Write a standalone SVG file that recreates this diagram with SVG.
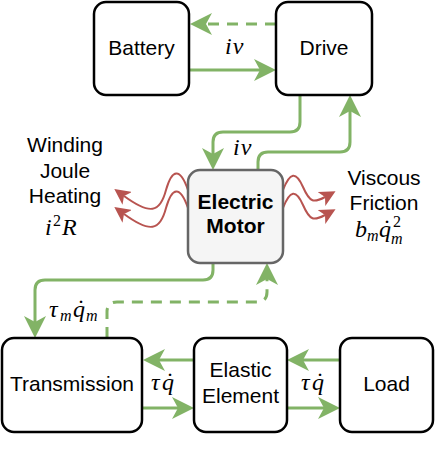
<svg xmlns="http://www.w3.org/2000/svg" width="436" height="468" viewBox="0 0 436 468">
<defs>
<style>
.box{fill:#fff;stroke:#000;stroke-width:2.5}
.motor{fill:#f5f5f5;stroke:#666;stroke-width:2.5}
.lbl{font-family:"Liberation Sans",Arial,sans-serif;font-size:21px;fill:#000;text-anchor:middle}
.bold{font-weight:bold}
.math{font-family:"Liberation Serif","Times New Roman",serif;font-style:italic;font-size:24px;fill:#000}
.sub{font-size:16px}
.up{font-style:normal;font-size:16px}
.dot{font-family:"Liberation Serif","Times New Roman",serif;font-size:24px;fill:#000}
.g{fill:none;stroke:#82b366;stroke-width:3}
.gd{fill:none;stroke:#82b366;stroke-width:3;stroke-dasharray:11 8}
.r{fill:none;stroke:#b85450;stroke-width:2}
</style>
<marker id="ag" viewBox="0 0 22 22" markerWidth="22" markerHeight="22" markerUnits="userSpaceOnUse" refX="6" refY="11" orient="auto">
<path d="M0,0 L22,11 L0,22 L6,11 Z" fill="#82b366"/>
</marker>
<marker id="ar" viewBox="0 0 16 16" markerWidth="16" markerHeight="16" markerUnits="userSpaceOnUse" refX="4" refY="8" orient="auto">
<path d="M0,0 L16,8 L0,16 L4,8 Z" fill="#b85450"/>
</marker>
</defs>

<g id="connectors">
<path class="gd" d="M276,24 L206,24" marker-end="url(#ag)"/>
<path class="g" d="M190,70 L260,70" marker-end="url(#ag)"/>
<path class="g" d="M300,95 L300,122 Q300,132 290,132 L223,132 Q213,132 213,142 L213,154" marker-end="url(#ag)"/>
<path class="g" d="M258,170 L258,162 Q258,152 268,152 L340,152 Q350,152 350,142 L350,111" marker-end="url(#ag)"/>
<path class="g" d="M213,263 L213,270 Q213,280 203,280 L45,280 Q35,280 35,290 L35,322" marker-end="url(#ag)"/>
<path class="gd" d="M107,338 L107,312 Q107,302 117,302 L257,302 Q267,302 267,292 L267,279" marker-end="url(#ag)"/>
<path class="g" d="M194,360 L159,360" marker-end="url(#ag)"/>
<path class="g" d="M143,408 L178,408" marker-end="url(#ag)"/>
<path class="g" d="M340,360 L303,360" marker-end="url(#ag)"/>
<path class="g" d="M287,408 L324,408" marker-end="url(#ag)"/>
<path class="r" d="M188,190 C180,167 172,169 166,190 C160,213 150,215 124,196" marker-end="url(#ar)"/>
<path class="r" d="M188,208 C180,185 172,187 166,208 C160,231 150,233 124,214" marker-end="url(#ar)"/>
<path class="r" d="M283,190 C290,172 296,171 303,187 C310,203 314,203 325,197" marker-end="url(#ar)"/>
<path class="r" d="M283,208 C290,190 296,189 303,205 C310,221 314,221 325,215" marker-end="url(#ar)"/>
</g>

<g id="battery">
<rect class="box" x="94" y="2" width="95" height="93" rx="12"/>
<text class="lbl" x="141.5" y="55">Battery</text>
</g>
<g id="drive">
<rect class="box" x="276" y="2" width="96" height="93" rx="12"/>
<text class="lbl" x="324" y="55">Drive</text>
</g>
<g id="motor">
<rect class="motor" x="188" y="170" width="95" height="93" rx="12"/>
<text class="lbl bold" x="235.5" y="209">Electric</text>
<text class="lbl bold" x="235.5" y="233">Motor</text>
</g>
<g id="transmission">
<rect class="box" x="2" y="338" width="140" height="94" rx="12"/>
<text class="lbl" x="72" y="391">Transmission</text>
</g>
<g id="elastic">
<rect class="box" x="194" y="338" width="93" height="94" rx="12"/>
<text class="lbl" x="240.5" y="377">Elastic</text>
<text class="lbl" x="240.5" y="403">Element</text>
</g>
<g id="load">
<rect class="box" x="340" y="338" width="93" height="94" rx="12"/>
<text class="lbl" x="386.5" y="391">Load</text>
</g>

<g id="labels">
<text class="lbl" x="65" y="152">Winding</text>
<text class="lbl" x="65" y="178">Joule</text>
<text class="lbl" x="65" y="203">Heating</text>
<text class="lbl" x="384" y="185">Viscous</text>
<text class="lbl" x="384" y="210">Friction</text>

<text class="math" x="225" y="54" letter-spacing="1">iv</text>
<text class="math" x="233" y="155" letter-spacing="1">iv</text>

<text class="math" x="45" y="235">i</text>
<text class="math up" x="53" y="226">2</text>
<text class="math" x="62" y="235">R</text>

<text class="math" x="355" y="237">b</text>
<text class="math sub" x="367" y="241">m</text>
<text class="math" x="379" y="237">q</text>
<text class="dot" x="383" y="236">˙</text>
<text class="math up" x="393" y="227">2</text>
<text class="math sub" x="391" y="244">m</text>

<text class="math" x="49" y="317">τ</text>
<text class="math sub" x="60" y="321">m</text>
<text class="math" x="73" y="317">q</text>
<text class="dot" x="77" y="316">˙</text>
<text class="math sub" x="86" y="321">m</text>

<text class="math" x="151" y="390">τ</text>
<text class="math" x="162" y="390">q</text>
<text class="dot" x="166" y="389">˙</text>
<text class="math" x="301" y="390">τ</text>
<text class="math" x="312" y="390">q</text>
<text class="dot" x="316" y="389">˙</text>
</g>
</svg>
